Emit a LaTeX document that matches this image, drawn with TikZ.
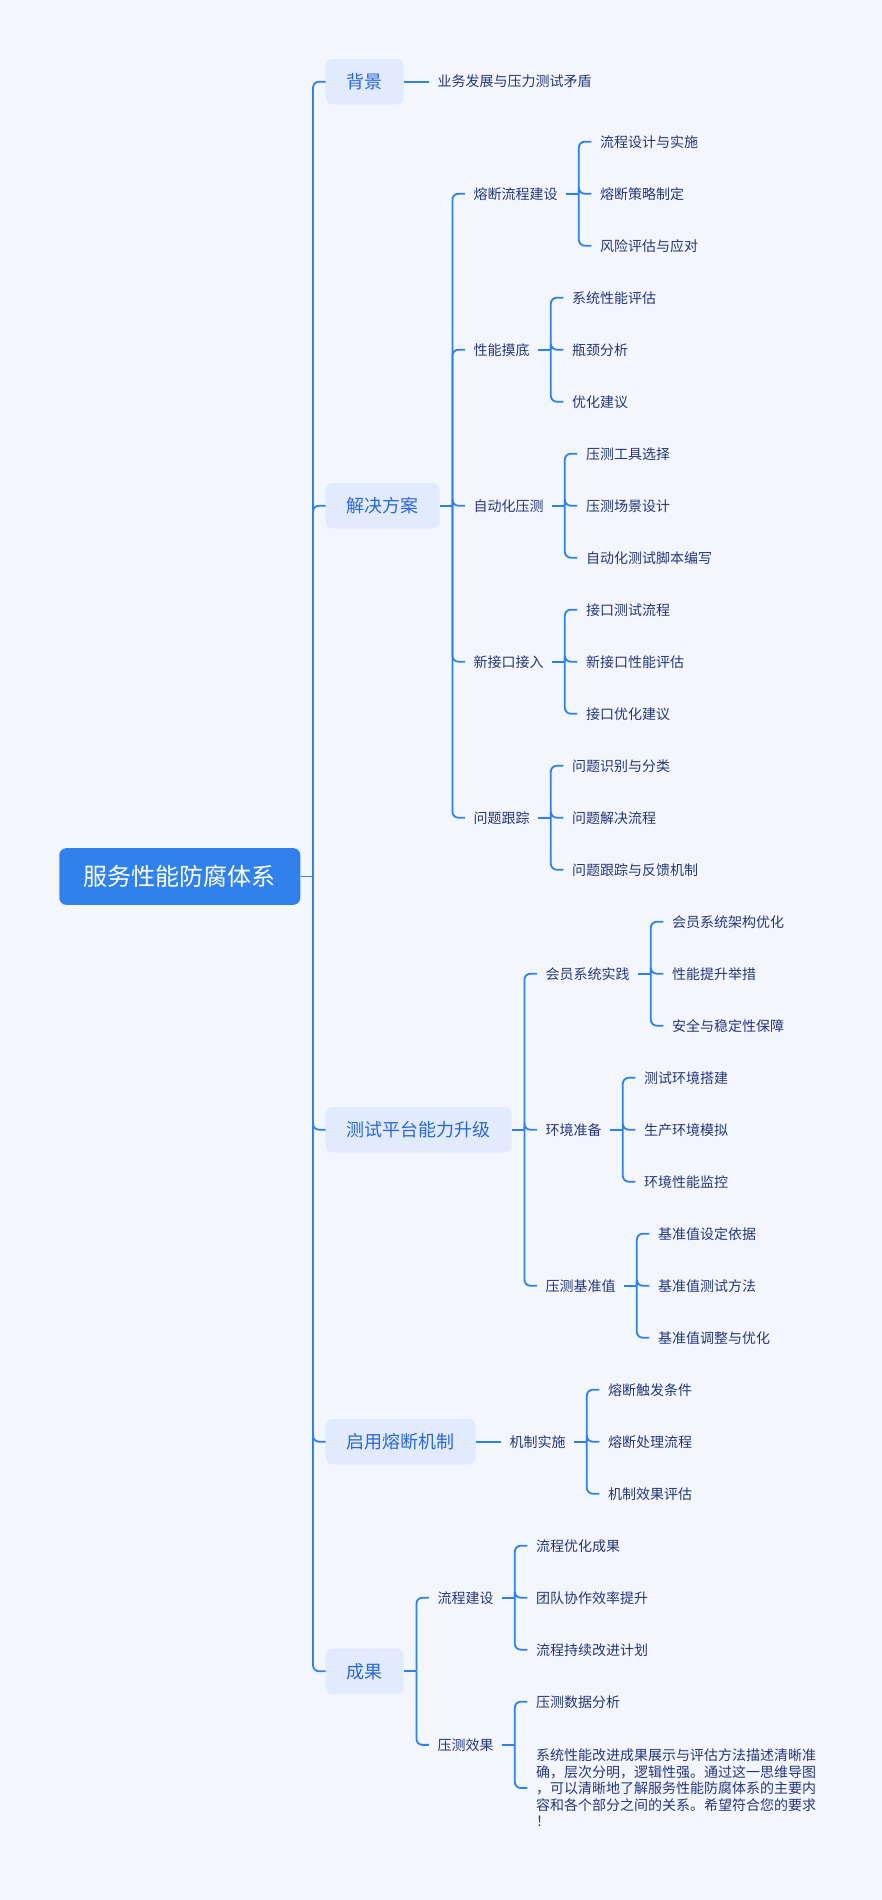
\documentclass[tikz,border=0pt]{standalone}
\usepackage{fontspec}
\setmainfont{Noto Sans CJK SC}
\usetikzlibrary{calc}
\definecolor{bgc}{HTML}{F4F6FE}
\definecolor{linec}{HTML}{3080EC}
\definecolor{rootc}{HTML}{3181EC}
\definecolor{boxc}{HTML}{E2EAFD}
\definecolor{lonetext}{HTML}{2A68D6}
\definecolor{leaftext}{HTML}{25367A}
\tikzset{
  conn/.style={draw=linec, line width=1.8pt, rounded corners=6pt},
  rootbox/.style={fill=rootc, text=white, font=\fontsize{24}{28}\selectfont, rounded corners=7pt, inner xsep=24.5pt, inner ysep=0pt, minimum height=56.7pt, text height=21.1pt, text depth=2.9pt},
  topicbox/.style={fill=boxc, text=lonetext, font=\fontsize{18}{22}\selectfont, rounded corners=7pt, inner xsep=21pt, inner ysep=0pt, minimum height=45.3pt, text height=15.8pt, text depth=2.2pt, anchor=west},
  leaf/.style={text=leaftext, font=\fontsize{14}{16.5}\selectfont, inner xsep=8.5pt, inner ysep=2pt, text height=12.3pt, text depth=1.7pt, anchor=west},
  para/.style={text=leaftext, font=\fontsize{14}{16.5}\selectfont, inner xsep=8.5pt, inner ysep=0pt, align=left, anchor=west},
}
\begin{document}
\begin{tikzpicture}[x=1pt,y=-1pt]
\useasboundingbox (0,0) rectangle (882,1900);
\fill[bgc] (0,0) rectangle (882,1900);

% root
\node[rootbox] (root) at (179.8,876.5) {服务性能防腐体系};
\path (root.east) ++(12.5,0) coordinate (root-s) ++(12.5,0) coordinate (root-c);

% level 1
\node[topicbox] (bj) at (root-c |- 0,81.7) {背景};
\node[topicbox] (jj) at (root-c |- 0,505.7) {解决方案};
\node[topicbox] (cs) at (root-c |- 0,1129.7) {测试平台能力升级};
\node[topicbox] (qy) at (root-c |- 0,1441.7) {启用熔断机制};
\node[topicbox] (cg) at (root-c |- 0,1671.3) {成果};
\draw[conn] (root.east) -- (root-s);
\foreach \c in {bj,jj,cs,qy,cg} { \draw[conn] (root-s) |- (\c.west); }

% 背景
\path (bj.east) ++(25,0) coordinate (bj-c);
\node[leaf] (bj1) at (bj-c |- bj) {业务发展与压力测试矛盾};
\draw[conn] (bj.east) -- (bj1.west);

% 解决方案
\path (jj.east) ++(12.5,0) coordinate (jj-s) ++(12.5,0) coordinate (jj-c);
\node[leaf] (jj1) at (jj-c |- 0,193.7) {熔断流程建设};
\node[leaf] (jj2) at (jj-c |- 0,349.7) {性能摸底};
\node[leaf] (jj3) at (jj-c |- 0,505.7) {自动化压测};
\node[leaf] (jj4) at (jj-c |- 0,661.7) {新接口接入};
\node[leaf] (jj5) at (jj-c |- 0,817.7) {问题跟踪};
\draw[conn] (jj.east) -- (jj-s);
\foreach \c in {jj1,jj2,jj3,jj4,jj5} { \draw[conn] (jj-s) |- (\c.west); }

% 熔断流程建设
\path (jj1.east) ++(12.5,0) coordinate (jj1-s) ++(12.5,0) coordinate (jj1-c);
\node[leaf] (jj1a) at (jj1-c |- 0,141.7) {流程设计与实施};
\node[leaf] (jj1b) at (jj1-c |- 0,193.7) {熔断策略制定};
\node[leaf] (jj1c) at (jj1-c |- 0,245.7) {风险评估与应对};
\draw[conn] (jj1.east) -- (jj1-s);
\foreach \c in {jj1a,jj1b,jj1c} { \draw[conn] (jj1-s) |- (\c.west); }

% 性能摸底
\path (jj2.east) ++(12.5,0) coordinate (jj2-s) ++(12.5,0) coordinate (jj2-c);
\node[leaf] (jj2a) at (jj2-c |- 0,297.7) {系统性能评估};
\node[leaf] (jj2b) at (jj2-c |- 0,349.7) {瓶颈分析};
\node[leaf] (jj2c) at (jj2-c |- 0,401.7) {优化建议};
\draw[conn] (jj2.east) -- (jj2-s);
\foreach \c in {jj2a,jj2b,jj2c} { \draw[conn] (jj2-s) |- (\c.west); }

% 自动化压测
\path (jj3.east) ++(12.5,0) coordinate (jj3-s) ++(12.5,0) coordinate (jj3-c);
\node[leaf] (jj3a) at (jj3-c |- 0,453.7) {压测工具选择};
\node[leaf] (jj3b) at (jj3-c |- 0,505.7) {压测场景设计};
\node[leaf] (jj3c) at (jj3-c |- 0,557.7) {自动化测试脚本编写};
\draw[conn] (jj3.east) -- (jj3-s);
\foreach \c in {jj3a,jj3b,jj3c} { \draw[conn] (jj3-s) |- (\c.west); }

% 新接口接入
\path (jj4.east) ++(12.5,0) coordinate (jj4-s) ++(12.5,0) coordinate (jj4-c);
\node[leaf] (jj4a) at (jj4-c |- 0,609.7) {接口测试流程};
\node[leaf] (jj4b) at (jj4-c |- 0,661.7) {新接口性能评估};
\node[leaf] (jj4c) at (jj4-c |- 0,713.7) {接口优化建议};
\draw[conn] (jj4.east) -- (jj4-s);
\foreach \c in {jj4a,jj4b,jj4c} { \draw[conn] (jj4-s) |- (\c.west); }

% 问题跟踪
\path (jj5.east) ++(12.5,0) coordinate (jj5-s) ++(12.5,0) coordinate (jj5-c);
\node[leaf] (jj5a) at (jj5-c |- 0,765.7) {问题识别与分类};
\node[leaf] (jj5b) at (jj5-c |- 0,817.7) {问题解决流程};
\node[leaf] (jj5c) at (jj5-c |- 0,869.7) {问题跟踪与反馈机制};
\draw[conn] (jj5.east) -- (jj5-s);
\foreach \c in {jj5a,jj5b,jj5c} { \draw[conn] (jj5-s) |- (\c.west); }

% 测试平台能力升级
\path (cs.east) ++(12.5,0) coordinate (cs-s) ++(12.5,0) coordinate (cs-c);
\node[leaf] (cs1) at (cs-c |- 0,973.7) {会员系统实践};
\node[leaf] (cs2) at (cs-c |- 0,1129.7) {环境准备};
\node[leaf] (cs3) at (cs-c |- 0,1285.7) {压测基准值};
\draw[conn] (cs.east) -- (cs-s);
\foreach \c in {cs1,cs2,cs3} { \draw[conn] (cs-s) |- (\c.west); }

\path (cs1.east) ++(12.5,0) coordinate (cs1-s) ++(12.5,0) coordinate (cs1-c);
\node[leaf] (cs1a) at (cs1-c |- 0,921.7) {会员系统架构优化};
\node[leaf] (cs1b) at (cs1-c |- 0,973.7) {性能提升举措};
\node[leaf] (cs1c) at (cs1-c |- 0,1025.7) {安全与稳定性保障};
\draw[conn] (cs1.east) -- (cs1-s);
\foreach \c in {cs1a,cs1b,cs1c} { \draw[conn] (cs1-s) |- (\c.west); }

\path (cs2.east) ++(12.5,0) coordinate (cs2-s) ++(12.5,0) coordinate (cs2-c);
\node[leaf] (cs2a) at (cs2-c |- 0,1077.7) {测试环境搭建};
\node[leaf] (cs2b) at (cs2-c |- 0,1129.7) {生产环境模拟};
\node[leaf] (cs2c) at (cs2-c |- 0,1181.7) {环境性能监控};
\draw[conn] (cs2.east) -- (cs2-s);
\foreach \c in {cs2a,cs2b,cs2c} { \draw[conn] (cs2-s) |- (\c.west); }

\path (cs3.east) ++(12.5,0) coordinate (cs3-s) ++(12.5,0) coordinate (cs3-c);
\node[leaf] (cs3a) at (cs3-c |- 0,1233.7) {基准值设定依据};
\node[leaf] (cs3b) at (cs3-c |- 0,1285.7) {基准值测试方法};
\node[leaf] (cs3c) at (cs3-c |- 0,1337.7) {基准值调整与优化};
\draw[conn] (cs3.east) -- (cs3-s);
\foreach \c in {cs3a,cs3b,cs3c} { \draw[conn] (cs3-s) |- (\c.west); }

% 启用熔断机制
\path (qy.east) ++(25,0) coordinate (qy-c);
\node[leaf] (qy1) at (qy-c |- qy) {机制实施};
\draw[conn] (qy.east) -- (qy1.west);

\path (qy1.east) ++(12.5,0) coordinate (qy1-s) ++(12.5,0) coordinate (qy1-c);
\node[leaf] (qy1a) at (qy1-c |- 0,1389.7) {熔断触发条件};
\node[leaf] (qy1b) at (qy1-c |- 0,1441.7) {熔断处理流程};
\node[leaf] (qy1c) at (qy1-c |- 0,1493.7) {机制效果评估};
\draw[conn] (qy1.east) -- (qy1-s);
\foreach \c in {qy1a,qy1b,qy1c} { \draw[conn] (qy1-s) |- (\c.west); }

% 成果
\path (cg.east) ++(12.5,0) coordinate (cg-s) ++(12.5,0) coordinate (cg-c);
\node[leaf] (cg1) at (cg-c |- 0,1597.7) {流程建设};
\node[leaf] (cg2) at (cg-c |- 0,1744.85) {压测效果};
\draw[conn] (cg.east) -- (cg-s);
\foreach \c in {cg1,cg2} { \draw[conn] (cg-s) |- (\c.west); }

\path (cg1.east) ++(12.5,0) coordinate (cg1-s) ++(12.5,0) coordinate (cg1-c);
\node[leaf] (cg1a) at (cg1-c |- 0,1545.7) {流程优化成果};
\node[leaf] (cg1b) at (cg1-c |- 0,1597.7) {团队协作效率提升};
\node[leaf] (cg1c) at (cg1-c |- 0,1649.7) {流程持续改进计划};
\draw[conn] (cg1.east) -- (cg1-s);
\foreach \c in {cg1a,cg1b,cg1c} { \draw[conn] (cg1-s) |- (\c.west); }

\path (cg2.east) ++(12.5,0) coordinate (cg2-s) ++(12.5,0) coordinate (cg2-c);
\node[leaf] (cg2a) at (cg2-c |- 0,1701.7) {压测数据分析};
\node[para] (cg2b) at (cg2-c |- 0,1788) {系统性能改进成果展示与评估方法描述清晰准\\确，层次分明，逻辑性强。通过这一思维导图\\，可以清晰地了解服务性能防腐体系的主要内\\容和各个部分之间的关系。希望符合您的要求\\！};
\draw[conn] (cg2.east) -- (cg2-s);
\foreach \c in {cg2a,cg2b} { \draw[conn] (cg2-s) |- (\c.west); }
\end{tikzpicture}
\end{document}
